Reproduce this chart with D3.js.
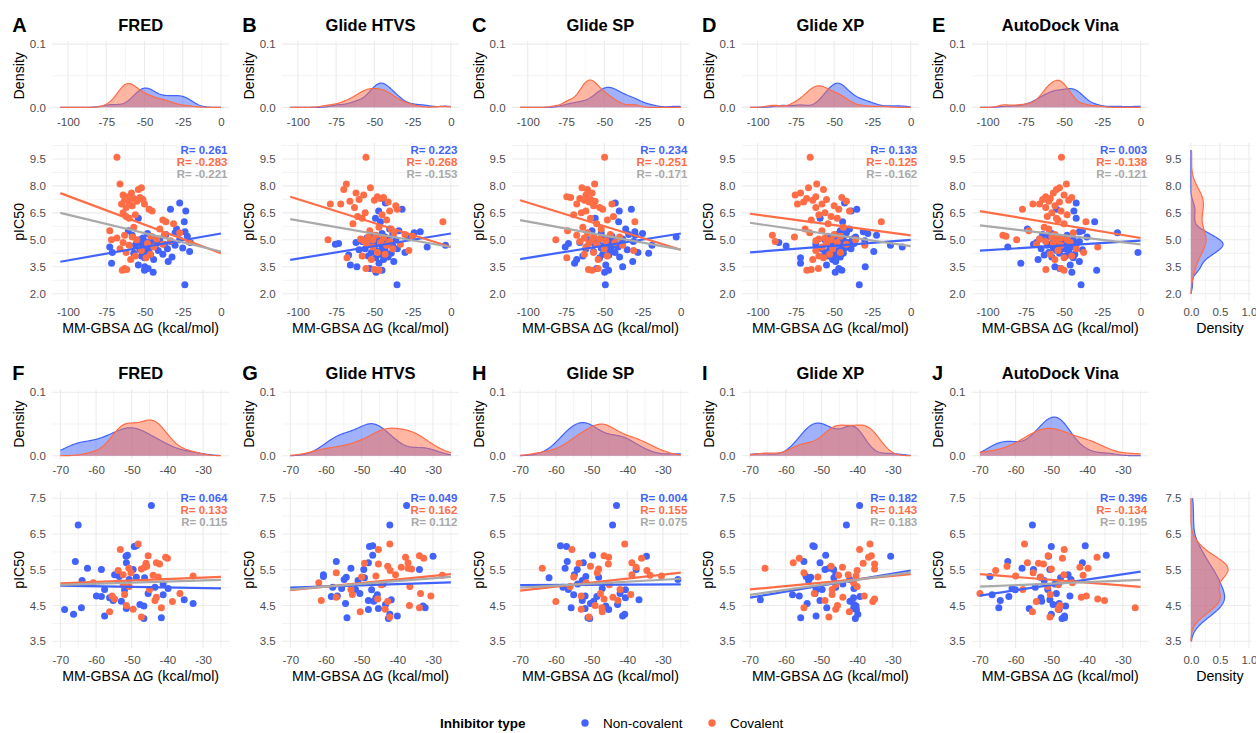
<!DOCTYPE html>
<html>
<head>
<meta charset="utf-8">
<script src="https://cdn.jsdelivr.net/npm/d3@7"></script>
<style>
body { margin: 0; background: #fff; }
text { font-family: "Liberation Sans", Arial, sans-serif; }
.tick text { fill: #4d4d4d; font-size: 11.5px; }
</style>
</head>
<body>
<div id="chart"></div>
<script>
// docking programs, one column each
var programs = ["FRED", "Glide HTVS", "Glide SP", "Glide XP", "AutoDock Vina"];
var lettersTop = ["A", "B", "C", "D", "E"];
var lettersBottom = ["F", "G", "H", "I", "J"];
var groups = ["Non-covalent", "Covalent"];

// ---- top row: pIC50 (shared by all programs) ----
var ncPic50Top = [7.05, 6.7, 6.6, 6.2, 6.0, 5.6, 5.5, 5.45, 5.4, 5.35, 5.3, 5.25, 5.2, 5.15, 5.1, 5.05, 5.0, 5.0, 4.95, 4.9,
  4.9, 4.85, 4.85, 4.8, 4.8, 4.75, 4.75, 4.7, 4.7, 4.65, 4.6, 4.6, 4.55, 4.5, 4.5, 4.45, 4.4, 4.35, 4.3, 4.3,
  4.25, 4.2, 4.15, 4.1, 4.05, 4.0, 3.9, 3.8, 3.7, 3.6, 3.5, 3.4, 3.3, 3.2, 2.5];
var covPic50Top = [9.6, 8.1, 7.9, 7.8, 7.6, 7.5, 7.4, 7.35, 7.3, 7.25, 7.2, 7.15, 7.1, 7.0, 7.0, 6.9, 6.8, 6.7, 6.6, 6.5,
  6.4, 6.3, 6.2, 6.1, 6.0, 5.9, 5.7, 5.6, 5.5, 5.4, 5.3, 5.25, 5.2, 5.15, 5.1, 5.05, 5.0, 5.0, 4.95, 4.9,
  4.85, 4.8, 4.75, 4.7, 4.6, 4.5, 4.4, 4.3, 4.2, 4.1, 4.0, 3.9, 3.4, 3.35, 3.3];

// MM-GBSA dG (kcal/mol), top row
var fredNcTop = [-27, -33, -23, -54, -24, -29, -60.5, -23.5, -30, -48, -36, -58, -22, -45, -51, -40, -53, -27, -46, -50,
  -33, -55, -20, -42, -52, -37, -48, -30, -56, -44, -72.7, -51, -25, -47, -35, -53, -41, -20.5, -71, -49,
  -57, -38, -46, -52, -32, -50, -44, -34.5, -71.5, -54, -49.8, -47.6, -50, -44.3, -23.6];
var htvsNcTop = [-42.8, -31.9, -47.2, -49.3, -46, -40, -34, -20, -24, -45, -38, -52, -28, -43, -55, -41, -48, -36, -50, -44,
  -58, -40, -62, -73.4, -47, -75.5, -53, -3.5, -42, -38, -15.5, -50, -45, -56, -35, -60, -43, -48, -30, -52,
  -39, -46, -66.8, -54, -41, -49, -44, -37.3, -47, -65.7, -61.4, -53, -45, -48.9, -35.2];
var spNcTop = [-42.8, -32.3, -40.2, -55.9, -40.6, -36, -58, -30, -52, -25, -34, -29.7, -45, -3, -50, -38, -47, -60, -43, -54,
  -31, -48, -66, -73.4, -44, -39, -56, -18.8, -50, -45, -75.5, -41, -52, -48, -62, -35, -46, -57, -43, -28,
  -21, -51, -47, -64, -40, -53, -68, -31.4, -69.4, -49, -38, -55, -47.2, -49.8, -49.3];
var xpNcTop = [-43.2, -35.2, -38.9, -59.2, -44.5, -40, -46, -31, -42, -28, -48, -22.3, -54, -36, -50, -38, -56, -44, -30, -52,
  -47, -86.2, -41, -55, -37, -49, -62, -13.2, -45, -81.4, -5.5, -51, -43, -58, -39, -53, -47, -24.1, -50, -56,
  -44, -52, -48, -54, -46, -72, -51, -49, -72, -55, -29.7, -47, -45, -49.3, -33.6];
var vinaNcTop = [-42.1, -54.9, -43.6, -42.1, -30, -74, -38, -40, -15.1, -58, -64, -48, -60, -35, -52, -66, -44, -56, -62, -50,
  -40, -68, -46, -54, -58, -70, -42, -48, -61, -52, -86.8, -45, -57, -50, -65, -38, -55, -47, -1.7, -60,
  -53, -43, -63, -49, -58, -44, -67, -40, -78.3, -46, -56, -52.8, -28.7, -44.9, -38.9];

var fredCovTop = [-68, -66, -52, -54, -58.5, -64, -61, -53, -57, -51, -63, -55, -60, -65, -50, -58, -62, -47, -45, -64,
  -56, -62, -60, -38, -36, -31, -57, -40, -72.7, -27, -37, -63, -46, -58, -68, -42, -71.6, -55, -33, -21,
  -64, -48, -38, -60, -44, -66, -52, -62, -46, -56, -49, -59, -63, -61.6, -64.5];
var htvsCovTop = [-55.5, -68.3, -52.6, -70, -62, -57, -48, -44, -46, -60, -50, -66, -41, -78.8, -72, -36, -63, -35, -40, -56,
  -45, -61, -58, -42, -5.2, -64, -47, -39, -53, -37, -30, -49, -25, -54, -44, -59, -80.3, -51, -57, -40,
  -46, -55, -33, -42, -51, -38, -27.5, -48, -43, -58, -67.9, -52, -55.5, -50, -47];
var spCovTop = [-49.8, -56.3, -64.6, -61, -58, -62, -74.5, -72, -66, -59, -63, -56, -60, -68, -45, -57, -53, -51, -62, -65,
  -70, -44, -59, -48, -30, -55, -64, -52, -74, -61, -46, -68, -57, -40, -63, -53, -81.7, -58, -49, -66,
  -43, -60, -55, -38, -62, -50, -30.8, -57, -63, -48, -74.5, -54, -54.1, -60.3, -58];
var xpCovTop = [-65.7, -61.4, -66.8, -57, -72, -75.5, -62, -45, -68, -55, -64, -42, -70, -58, -74, -50, -62, -47, -40, -56,
  -60, -52, -48, -65, -19.2, -54, -44, -69, -58, -66, -50, -90.4, -46, -76, -56, -60, -52, -36, -62, -88.6,
  -48, -55, -42, -30, -58, -51, -62, -46, -53, -60, -57, -64, -60.3, -65, -67.9];
var vinaCovTop = [-51.7, -48.5, -53, -55, -57, -50, -62, -45, -59, -64, -47, -60, -53, -70.4, -66, -56, -62, -77.2, -52, -58,
  -48, -61, -55, -54, -35.7, -50, -63, -60, -73, -44, -56, -90, -88, -58, -52, -66, -48, -81, -55, -62,
  -46, -57, -68, -52, -28, -42, -54, -37.2, -59, -45, -50, -56, -52, -61.9, -50];

// ---- bottom row ----
var ncPic50Bottom = [7.30, 6.75, 6.17, 6.15, 5.91, 5.88, 5.73, 5.70, 5.54, 5.51, 5.51, 5.36, 5.31, 5.29, 5.28, 5.23, 5.20, 5.10, 5.01, 4.98,
  4.95, 4.94, 4.84, 4.80, 4.77, 4.75, 4.72, 4.66, 4.64, 4.62, 4.56, 4.53, 4.49, 4.44, 4.42, 4.39, 4.26, 4.21, 4.16, 4.14];
var covPic50Bottom = [6.22, 6.07, 5.89, 5.85, 5.82, 5.70, 5.68, 5.66, 5.60, 5.57, 5.54, 5.52, 5.48, 5.42, 5.36, 5.35, 5.33, 5.30, 5.14, 5.08,
  5.03, 4.95, 4.84, 4.81, 4.77, 4.73, 4.68, 4.64, 4.61, 4.50, 4.44, 4.40, 4.33, 4.18];

var fredNcBottom = [-44.5, -65, -48.7, -49.3, -51.2, -51.6, -65.8, -51.5, -62.4, -58.5, -49.6, -54.8, -53.5, -48.7, -46.4, -50.7, -63.9, -41.2, -43.5, -39.8,
  -57.6, -52, -45.4, -41.2, -59.9, -58.5, -56.2, -35.3, -55.2, -52.9, -32.8, -47.7, -46.6, -64.1, -51.5, -68.8, -66.3, -57.6, -41.7, -46.6];
var htvsNcBottom = [-37.4, -42.1, -46.9, -47.8, -46.9, -30, -57.1, -48.1, -53, -49.4, -33.8, -60.7, -60.7, -54.3, -49.2, -54.9, -51, -44, -58.1, -55.6,
  -51.7, -47.2, -50.5, -45.6, -56.8, -58.5, -46, -41.7, -48.1, -46.6, -54.5, -43.3, -32.8, -32.2, -45.3, -48.1, -42.1, -40, -54.1, -42.5];
var spNcBottom = [-43, -44.1, -58.7, -57, -49.7, -34.6, -56.8, -52.3, -57.4, -37.5, -54, -54.8, -51.6, -48, -61.9, -25.8, -52.6, -53.9, -58, -47,
  -56.5, -40.5, -42, -55, -51.8, -48.5, -40.5, -36.7, -52.6, -49.4, -50.3, -42.7, -46, -55.7, -51.8, -45.2, -40.7, -41.3, -51, -50.5];
var xpNcBottom = [-39.3, -43, -52.4, -52, -48.8, -30.6, -54.9, -50.4, -47.9, -46.6, -49, -46, -54.3, -53, -46.5, -42.1, -53.6, -44, -46, -40.9,
  -49.8, -51.5, -51.8, -58.1, -56.2, -39.2, -41, -67.1, -50.4, -42, -54, -40.9, -40.3, -48.5, -41, -40.2, -39.8, -51.5, -55.8, -40.5];
// null = outside the plotted dG range
var vinaNcBottom = [null, -55.3, -40.5, -50, -34.6, -50.8, -62.2, -41.3, -58.2, -55, -50.4, -45.3, -67.2, -53.1, -47.4, -44.5, -52, -49, -54.5, -61,
  -51, -60.1, -48.6, -66.6, -44.8, -61.9, -52.9, -50.4, -64.3, -52.7, -47.8, -49.5, -46, -64.7, -56.2, -47.8, -50, -46.3, -46.3, -47];

var fredCovBottom = [-48.2, -53.2, -45.4, -40.5, -40, -43.1, -46, -42.2, -45.8, -46.4, -50.8, -47.3, -53.8, -50.2, -52.4, -44, -32.8, -42.6, -60.8, -52.4,
  -50.7, -45, -36.5, -52, -55.5, -43.1, -54.8, -43.5, -38.6, -51.5, -41.7, -49.6, -56.2, -47.3];
var htvsCovBottom = [-42.1, -45.3, -33.8, -37.7, -32.6, -37, -49.2, -45.3, -42.7, -38.9, -37, -36, -42, -57.1, -40.5, -27.4, -46, -50, -62, -44.5,
  -36.5, -53, -33.5, -52.6, -30.6, -57.1, -45.5, -61.3, -42.7, -36.6, -33.8, -43.4, -50.4, -42.1];
var spCovBottom = [-40.7, -55.5, -46.5, -45.2, -36, -38.7, -53.5, -45.3, -50.3, -37.5, -63.8, -48, -34.5, -48.4, -38.7, -33.6, -30.4, -55, -51.5, -45,
  -56, -42, -47.5, -39, -52.9, -44, -46.5, -42.6, -60, -49, -47.1, -52.9, -47, -50.7];
var xpCovBottom = [-36.4, -39.3, -36, -36.8, -56.2, -57.9, -38.3, -35.1, -47.3, -44.1, -65.8, -35.1, -40, -54.9, -42.5, -45.2, -40.3, -51, -41, -46,
  -40, -47, -52, -47, -38, -44, -35.1, -49, -35.6, -45.5, -54.9, -46, -42.2, -47.9];
var vinaCovBottom = [-57.5, -46.4, -50.9, -37.2, -46.9, -56.7, -53.6, -52.2, -62.4, -42, -39.7, -50, -65.6, -55.1, -46.5, -41.1, -60, -53, -44.1, -48,
  -51, -58, -70, -50.3, -40.2, -41.6, -37, -35.1, -54.2, -47.6, -26.5, -48.1, -55.3, -50.4];

// correlation labels
var rNcTop = ["0.261", "0.223", "0.234", "0.133", "0.003"];
var rCovTop = ["-0.283", "-0.268", "-0.251", "-0.125", "-0.138"];
var rAllTop = ["-0.221", "-0.153", "-0.171", "-0.162", "-0.121"];
var rNcBottom = ["0.064", "0.049", "0.004", "0.182", "0.396"];
var rCovBottom = ["0.133", "0.162", "0.155", "0.143", "-0.134"];
var rAllBottom = ["0.115", "0.112", "0.075", "0.183", "0.195"];

// fitted lines: pIC50 at the two ends of the dG range
var fitNcTop = [[3.78, 5.35], [3.88, 5.35], [3.93, 5.35], [4.3, 5.0], [4.4, 4.95]];
var fitCovTop = [[7.6, 4.25], [7.4, 4.6], [7.2, 4.45], [6.45, 5.25], [6.6, 5.1]];
var fitAllTop = [[6.5, 4.35], [6.15, 4.6], [6.1, 4.45], [5.95, 4.65], [5.8, 4.75]];
var fitNcBottom = [[5.06, 4.98], [5.0, 5.15], [5.07, 5.09], [4.72, 5.48], [4.78, 5.45]];
var fitCovBottom = [[5.12, 5.3], [4.93, 5.38], [4.92, 5.42], [4.95, 5.38], [5.38, 5.02]];
var fitAllBottom = [[5.08, 5.22], [4.95, 5.3], [5.0, 5.25], [4.8, 5.43], [5.03, 5.22]];

// axes
var dgRangeTop = [-105, 0];
var dgRangeBottom = [-70, -25];
var dgTicksTop = [-100, -75, -50, -25, 0];
var dgTicksBottom = [-70, -60, -50, -40, -30];
var pic50RangeTop = [2, 10];
var pic50RangeBottom = [3.5, 7.5];
var pic50TicksTop = [2.0, 3.5, 5.0, 6.5, 8.0, 9.5];
var pic50TicksBottom = [3.5, 4.5, 5.5, 6.5, 7.5];
var densTicks = [0, 0.1];
var sideDensTicks = [0, 0.5, 1.0];

var svgWidth = 1256;
var svgHeight = 733;
var blue = "#4263fb", orange = "#ff6d47", gray = "#a9a9a9", gridCol = "#ebebeb";

var panelLeft = 52.3, panelStep = 229.9, panelWidth = 176.7;
var sideLeft = 1188, sideRight = 1251.8;

var svg = d3.select("#chart")
  .append("svg")
  .attr("width", svgWidth)
  .attr("height", svgHeight);

function expand(r, f) {
  var d = (r[1] - r[0]) * f;
  return [r[0] - d, r[1] + d];
}

function minorOf(ticks, dom) {
  var step = ticks[1] - ticks[0];
  var out = [];
  for (var t = ticks[0] - step / 2; t <= ticks[ticks.length - 1] + step; t += step) {
    if (t >= dom[0] && t <= dom[1]) out.push(t);
  }
  return out;
}

// gaussian kde, bandwidth as R bw.nrd0
function kde(values, lo, hi) {
  var v = values.slice().sort(d3.ascending);
  var n = v.length;
  var sd = d3.deviation(v);
  var iqr = d3.quantile(v, 0.75) - d3.quantile(v, 0.25);
  var bw = 0.9 * Math.min(sd, iqr / 1.34) * Math.pow(n, -0.2);
  return d3.range(0, 257).map(function (i) {
    var t = lo + (hi - lo) * i / 256;
    var s = d3.sum(v, function (a) { var z = (t - a) / bw; return Math.exp(-0.5 * z * z); });
    return [t, s / (n * bw * Math.sqrt(2 * Math.PI))];
  });
}

function drawGrid(x, y, xt, yt) {
  var xd = x.domain(), yd = y.domain();
  var g = svg.append("g");
  minorOf(xt, xd).forEach(function (t) {
    g.append("line").attr("x1", x(t)).attr("x2", x(t)).attr("y1", y.range()[0]).attr("y2", y.range()[1])
      .attr("stroke", gridCol).attr("stroke-width", 0.6);
  });
  minorOf(yt, yd).forEach(function (t) {
    g.append("line").attr("y1", y(t)).attr("y2", y(t)).attr("x1", x.range()[0]).attr("x2", x.range()[1])
      .attr("stroke", gridCol).attr("stroke-width", 0.6);
  });
  xt.forEach(function (t) {
    g.append("line").attr("x1", x(t)).attr("x2", x(t)).attr("y1", y.range()[0]).attr("y2", y.range()[1])
      .attr("stroke", gridCol).attr("stroke-width", 1.1);
  });
  yt.forEach(function (t) {
    g.append("line").attr("y1", y(t)).attr("y2", y(t)).attr("x1", x.range()[0]).attr("x2", x.range()[1])
      .attr("stroke", gridCol).attr("stroke-width", 1.1);
  });
}

function xAxis(x, yPos, ticks, fmt) {
  svg.append("g")
    .attr("transform", "translate(0," + yPos + ")")
    .call(d3.axisBottom(x).tickValues(ticks).tickFormat(fmt).tickSize(0).tickPadding(7))
    .call(function (g) { g.select(".domain").remove(); });
}

function yAxis(y, xPos, ticks, fmt) {
  svg.append("g")
    .attr("transform", "translate(" + xPos + ",0)")
    .call(d3.axisLeft(y).tickValues(ticks).tickFormat(fmt).tickSize(0).tickPadding(6.5))
    .call(function (g) { g.select(".domain").remove(); });
}

function label(txt, x, y, opts) {
  var t = svg.append("text").attr("x", x).attr("y", y).text(txt)
    .attr("font-size", opts.size).attr("fill", opts.fill || "#000")
    .attr("text-anchor", opts.anchor || "middle")
    .attr("dominant-baseline", "central");
  if (opts.bold) t.attr("font-weight", "bold");
  if (opts.rotate) t.attr("transform", "rotate(-90," + x + "," + y + ")");
  return t;
}

var fmtInt = function (d) { return String(d); };
var fmt1 = function (d) { return d.toFixed(1); };

var rows = [
  {
    letters: lettersTop, ncY: ncPic50Top, covY: covPic50Top,
    ncX: [fredNcTop, htvsNcTop, spNcTop, xpNcTop, vinaNcTop],
    covX: [fredCovTop, htvsCovTop, spCovTop, xpCovTop, vinaCovTop],
    rNc: rNcTop, rCov: rCovTop, rAll: rAllTop,
    fitNc: fitNcTop, fitCov: fitCovTop, fitAll: fitAllTop,
    dgRange: dgRangeTop, dgTicks: dgTicksTop, pRange: pic50RangeTop, pTicks: pic50TicksTop,
    titleY: 25, dens: [41, 110.5], scat: [142.8, 300.9], xTitleY: 328
  },
  {
    letters: lettersBottom, ncY: ncPic50Bottom, covY: covPic50Bottom,
    ncX: [fredNcBottom, htvsNcBottom, spNcBottom, xpNcBottom, vinaNcBottom],
    covX: [fredCovBottom, htvsCovBottom, spCovBottom, xpCovBottom, vinaCovBottom],
    rNc: rNcBottom, rCov: rCovBottom, rAll: rAllBottom,
    fitNc: fitNcBottom, fitCov: fitCovBottom, fitAll: fitAllBottom,
    dgRange: dgRangeBottom, dgTicks: dgTicksBottom, pRange: pic50RangeBottom, pTicks: pic50TicksBottom,
    titleY: 373, dens: [389.1, 458.9], scat: [491.15, 648.45], xTitleY: 676
  }
];

rows.forEach(function (row) {
  var yDom = expand(row.pRange, 0.05);
  var y = d3.scaleLinear().domain(yDom).range([row.scat[1], row.scat[0]]);
  var yd = d3.scaleLinear().domain([-0.005, 0.105]).range([row.dens[1], row.dens[0]]);

  programs.forEach(function (prog, i) {
    var left = panelLeft + i * panelStep;
    var x = d3.scaleLinear().domain(expand(row.dgRange, 0.05)).range([left, left + panelWidth]);

    // titles
    label(row.letters[i], left - 40, row.titleY, { size: 20, bold: true, anchor: "start" });
    label(prog, left + panelWidth / 2, row.titleY, { size: 16.5, bold: true });

    // ---- marginal density of dG ----
    drawGrid(x, yd, row.dgTicks, densTicks);
    var sets = [
      { xs: row.ncX[i], col: blue },
      { xs: row.covX[i], col: orange }
    ];
    sets.forEach(function (s) {
      var vals = s.xs.filter(function (v) { return v !== null; });
      var dens = kde(vals, row.dgRange[0], row.dgRange[1]);
      svg.append("path").datum(dens)
        .attr("d", d3.area().x(function (d) { return x(d[0]); }).y0(yd(0)).y1(function (d) { return yd(d[1]); }))
        .attr("fill", s.col).attr("fill-opacity", 0.5);
      svg.append("path").datum(dens)
        .attr("d", d3.line().x(function (d) { return x(d[0]); }).y(function (d) { return yd(d[1]); }))
        .attr("fill", "none").attr("stroke", s.col).attr("stroke-width", 1.2);
    });
    xAxis(x, row.dens[1], row.dgTicks, fmtInt);
    yAxis(yd, left, densTicks, fmt1);
    label("Density", left - 33.5, (row.dens[0] + row.dens[1]) / 2, { size: 14.2, rotate: true });

    // ---- scatter ----
    drawGrid(x, y, row.dgTicks, row.pTicks);
    var pts = [];
    row.ncY.forEach(function (p, k) { if (row.ncX[i][k] !== null) pts.push({ dg: row.ncX[i][k], p: p, col: blue }); });
    row.covY.forEach(function (p, k) { if (row.covX[i][k] !== null) pts.push({ dg: row.covX[i][k], p: p, col: orange }); });
    svg.append("g").selectAll("circle")
      .data(pts)
      .enter()
      .append("circle")
      .attr("cx", function (d) { return x(d.dg); })
      .attr("cy", function (d) { return y(d.p); })
      .attr("r", 3.5)
      .attr("fill", function (d) { return d.col; });

    [[row.fitNc[i], blue], [row.fitCov[i], orange], [row.fitAll[i], gray]].forEach(function (f) {
      svg.append("line")
        .attr("x1", x(row.dgRange[0])).attr("y1", y(f[0][0]))
        .attr("x2", x(row.dgRange[1])).attr("y2", y(f[0][1]))
        .attr("stroke", f[1]).attr("stroke-width", 2.2);
    });

    var rx = left + panelWidth - 1.5;
    label("R= " + row.rNc[i], rx, row.scat[0] + 7, { size: 11.5, bold: true, anchor: "end", fill: blue });
    label("R= " + row.rCov[i], rx, row.scat[0] + 19.2, { size: 11.5, bold: true, anchor: "end", fill: orange });
    label("R= " + row.rAll[i], rx, row.scat[0] + 31, { size: 11.5, bold: true, anchor: "end", fill: gray });

    xAxis(x, row.scat[1], row.dgTicks, fmtInt);
    yAxis(y, left, row.pTicks, fmt1);
    label("pIC50", left - 33.5, (row.scat[0] + row.scat[1]) / 2, { size: 14.2, rotate: true });
    label("MM-GBSA \u0394G (kcal/mol)", left + panelWidth / 2, row.xTitleY, { size: 14.2 });
  });

  // ---- marginal density of pIC50 (right side) ----
  var xs = d3.scaleLinear().domain([-0.05, 1.05]).range([sideLeft, sideRight]);
  drawGrid(xs, y, sideDensTicks, row.pTicks);
  [[row.ncY, blue], [row.covY, orange]].forEach(function (s) {
    var dens = kde(s[0], row.pRange[0], row.pRange[1]);
    svg.append("path").datum(dens)
      .attr("d", d3.area().y(function (d) { return y(d[0]); }).x0(xs(0)).x1(function (d) { return xs(d[1]); }))
      .attr("fill", s[1]).attr("fill-opacity", 0.5);
    svg.append("path").datum(dens)
      .attr("d", d3.line().y(function (d) { return y(d[0]); }).x(function (d) { return xs(d[1]); }))
      .attr("fill", "none").attr("stroke", s[1]).attr("stroke-width", 1.2);
  });
  xAxis(xs, row.scat[1], sideDensTicks, fmt1);
  yAxis(y, sideLeft, row.pTicks, fmt1);
  label("Density", (sideLeft + sideRight) / 2, row.xTitleY, { size: 14.2 });
});

// legend
var legY = 723;
label("Inhibitor type", 440, legY, { size: 13.5, bold: true, anchor: "start" });
svg.append("g").selectAll("circle")
  .data(groups)
  .enter()
  .append("circle")
  .attr("cx", function (d, i) { return i === 0 ? 585 : 712; })
  .attr("cy", legY)
  .attr("r", 3.7)
  .attr("fill", function (d, i) { return i === 0 ? blue : orange; });
groups.forEach(function (g, i) {
  label(g, i === 0 ? 603 : 730, legY, { size: 13.5, anchor: "start" });
});
</script>
</body>
</html>
